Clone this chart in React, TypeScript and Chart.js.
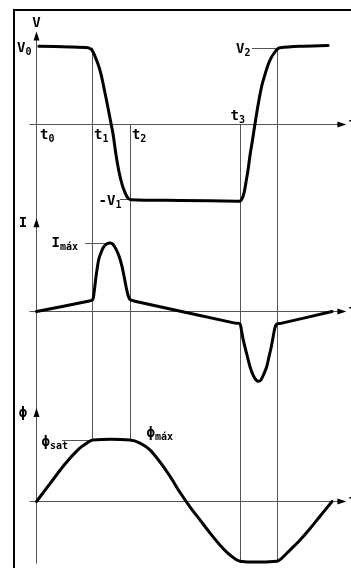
import React, { useEffect, useRef } from 'react';
import { Chart, registerables } from 'chart.js';

Chart.register(...registerables);

const W = 351;
const H = 568;

// ---- data (time in arbitrary units, levels normalised) ----
const markTimes = [0, 1.87, 3.13, 6.8, 8.03];
const markSubs = ['0', '1', '2', '3'];

const V0 = 1.0;
const V1 = -0.974;
const V2 = 0.98;
const IMAX = 1.0;
const PHI_MAX = 1.0;
const PHI_MIN = -0.97;

const vTime = [0.08, 1.12, 1.72, 1.78, 1.85, 1.95, 2.05, 2.15, 2.25, 2.35, 2.45, 2.55, 2.65, 2.75, 2.85, 2.95, 3.05, 3.15, 4.78, 6.72, 6.78, 6.85, 6.92, 6.98, 7.05, 7.12, 7.2, 7.28, 7.38, 7.51, 7.62, 7.72, 7.82, 7.92, 8.02, 8.12, 8.78, 9.72];
const vValues = [1.01, 1.0, 0.99, 0.98, 0.96, 0.88, 0.78, 0.65, 0.47, 0.28, 0.08, -0.12, -0.39, -0.61, -0.77, -0.88, -0.95, -0.97, -0.98, -0.99, -0.99, -0.96, -0.88, -0.75, -0.59, -0.39, -0.2, 0, 0.24, 0.5, 0.65, 0.77, 0.86, 0.92, 0.97, 0.99, 1.01, 1.02];

const iTime = [0, 1.72, 1.87, 1.92, 1.97, 2.02, 2.08, 2.17, 2.25, 2.35, 2.45, 2.55, 2.65, 2.75, 2.85, 2.93, 3.0, 3.07, 3.13, 3.28, 6.62, 6.78, 6.83, 6.88, 6.95, 7.03, 7.12, 7.22, 7.32, 7.4, 7.48, 7.58, 7.67, 7.75, 7.82, 7.88, 7.93, 7.98, 8.02, 8.18, 9.85];
const iValues = [0, 0.15, 0.17, 0.28, 0.46, 0.62, 0.77, 0.88, 0.95, 0.99, 1.0, 0.98, 0.91, 0.81, 0.66, 0.49, 0.33, 0.21, 0.17, 0.15, -0.17, -0.18, -0.27, -0.39, -0.52, -0.66, -0.81, -0.93, -1.0, -1.02, -1.0, -0.91, -0.81, -0.66, -0.53, -0.39, -0.27, -0.2, -0.18, -0.17, 0];

const phiTime = [0, 0.45, 0.95, 1.38, 1.68, 1.88, 3.12, 3.45, 3.78, 4.12, 4.45, 4.78, 5.12, 5.45, 5.78, 6.12, 6.45, 6.78, 8.02, 8.18, 8.45, 8.78, 9.12, 9.45, 9.85];
const phiValues = [0, 0.29, 0.61, 0.84, 0.95, 1.0, 1.0, 0.95, 0.84, 0.64, 0.41, 0.15, -0.09, -0.3, -0.51, -0.71, -0.87, -0.97, -0.97, -0.92, -0.79, -0.63, -0.44, -0.24, 0];

// ---- layout (pixel mapping of the units) ----
const X_ZERO = 36.5;
const X_UNIT = 30;
const V_ZERO = 124.5;
const V_UNIT = 77.5;
const I_ZERO = 311.5;
const I_UNIT = 68.5;
const P_ZERO = 501.5;
const P_UNIT = 61.5;

const yRange = (zero: number, unit: number) => ({ min: -(H - zero) / unit, max: zero / unit });

const AXIS_START = -0.22;
const AXIS_END = 10.33;

const LINE = '#555';
const MAIN_FONT = 'bold 14px "DejaVu Sans Mono"';
const SUB_FONT = 'bold 10px "DejaVu Sans Mono"';

function zip(xs: number[], ys: number[]) {
  return xs.map((x, i) => ({ x, y: ys[i] }));
}

function drawLabel(ctx: CanvasRenderingContext2D, x: number, y: number, main: string, sub: string, align: 'left' | 'center') {
  ctx.font = MAIN_FONT;
  const wm = ctx.measureText(main).width;
  ctx.font = SUB_FONT;
  const ws = sub ? ctx.measureText(sub).width : 0;
  const x0 = align === 'center' ? x - (wm + ws) / 2 : x;
  ctx.textBaseline = 'middle';
  ctx.textAlign = 'left';
  ctx.fillStyle = '#000';
  ctx.font = MAIN_FONT;
  ctx.fillText(main, x0, y);
  if (sub) {
    ctx.font = SUB_FONT;
    ctx.fillText(sub, x0 + wm, y + 4);
  }
}

const diagramPlugin = {
  id: 'diagram',
  beforeDatasetsDraw(chart: any) {
    const ctx: CanvasRenderingContext2D = chart.ctx;
    const sx = chart.scales.x;
    const S: any = { yV: chart.scales.yV, yI: chart.scales.yI, yP: chart.scales.yP };
    const px = (t: number) => Math.floor(sx.getPixelForValue(t)) + 0.5;
    const py = (id: string, v: number) => Math.floor(S[id].getPixelForValue(v)) + 0.5;
    ctx.save();
    ctx.strokeStyle = LINE;
    ctx.lineWidth = 1;
    const seg = (x1: number, y1: number, x2: number, y2: number) => {
      ctx.beginPath();
      ctx.moveTo(x1, y1);
      ctx.lineTo(x2, y2);
      ctx.stroke();
    };
    // horizontal axes with arrows
    const xEnd = sx.getPixelForValue(AXIS_END);
    for (const id of ['yV', 'yI', 'yP']) {
      const y = py(id, 0);
      seg(px(AXIS_START), y, xEnd - 6, y);
      ctx.fillStyle = '#000';
      ctx.beginPath();
      ctx.moveTo(xEnd, y);
      ctx.lineTo(xEnd - 9, y - 3);
      ctx.lineTo(xEnd - 9, y + 3);
      ctx.closePath();
      ctx.fill();
    }
    // vertical axis with arrows
    const ax = px(markTimes[0]);
    seg(ax, S.yV.getPixelForValue(1.18), ax, py('yP', -1.0));
    const tips: [string, number][] = [['yV', 1.2], ['yI', 1.36], ['yP', 1.52]];
    for (const [id, v] of tips) {
      const y = S[id].getPixelForValue(v);
      ctx.fillStyle = '#000';
      ctx.beginPath();
      ctx.moveTo(ax, y);
      ctx.lineTo(ax - 3, y + 9);
      ctx.lineTo(ax + 3, y + 9);
      ctx.closePath();
      ctx.fill();
    }
    // time markers
    const spans: [number, string, number, string, number][] = [
      [markTimes[1], 'yV', V0 * 0.99, 'yP', PHI_MAX],
      [markTimes[2], 'yV', 0, 'yP', PHI_MAX],
      [markTimes[3], 'yV', 0, 'yP', PHI_MIN],
      [markTimes[4], 'yV', V2, 'yP', PHI_MIN],
    ];
    for (const [t, a, av, b, bv] of spans) {
      seg(px(t), py(a, av), px(t), py(b, bv));
    }
    // level reference lines
    const refs: [number, number, string, number][] = [
      [2.78, markTimes[2], 'yV', V1],
      [7.18, markTimes[4], 'yV', V2],
      [1.62, 2.38, 'yI', IMAX],
      [0.85, markTimes[1], 'yP', PHI_MAX],
    ];
    for (const [t1, t2, id, v] of refs) {
      seg(sx.getPixelForValue(t1), py(id, v), sx.getPixelForValue(t2), py(id, v));
    }
    ctx.restore();
  },
  afterDatasetsDraw(chart: any) {
    const ctx: CanvasRenderingContext2D = chart.ctx;
    const sx = chart.scales.x;
    const S: any = { yV: chart.scales.yV, yI: chart.scales.yI, yP: chart.scales.yP };
    const X = (t: number) => sx.getPixelForValue(t);
    const Y = (id: string, v: number) => S[id].getPixelForValue(v);
    ctx.save();
    // axis names
    drawLabel(ctx, X(0), Y('yV', 1.3), 'V', '', 'center');
    drawLabel(ctx, X(-0.45), Y('yI', 1.29), 'I', '', 'center');
    drawLabel(ctx, X(-0.45), Y('yP', 1.44), 'ϕ', '', 'center');
    // time labels
    const tPos: [number, number][] = [[0.12, -0.135], [1.92, -0.135], [3.18, -0.135], [6.47, 0.1]];
    tPos.forEach(([t, v], i) => drawLabel(ctx, X(t), Y('yV', v), 't', markSubs[i], 'left'));
    // level labels
    drawLabel(ctx, X(-0.65), Y('yV', V0 * 0.98), 'V', '0', 'left');
    drawLabel(ctx, X(2.07), Y('yV', V1 - 0.02), '-V', '1', 'left');
    drawLabel(ctx, X(6.65), Y('yV', V2 - 0.01), 'V', '2', 'left');
    drawLabel(ctx, X(0.5), Y('yI', IMAX * 0.99), 'I', 'máx', 'left');
    drawLabel(ctx, X(0.17), Y('yP', PHI_MAX * 0.96), 'ϕ', 'sat', 'left');
    drawLabel(ctx, X(3.67), Y('yP', PHI_MAX * 1.11), 'ϕ', 'máx', 'left');
    // axis end names (clipped at the edge)
    for (const id of ['yV', 'yI', 'yP']) {
      drawLabel(ctx, X(10.4), Y(id, 0), 't', '', 'left');
    }
    ctx.restore();
  },
};

export default function App() {
  const ref = useRef<HTMLCanvasElement | null>(null);
  useEffect(() => {
    if (!ref.current) return;
    const line = (data: { x: number; y: number }[], yAxisID: string) => ({
      data,
      yAxisID,
      borderColor: '#000',
      borderWidth: 3,
      pointRadius: 0,
      fill: false,
      tension: 0.3,
      borderJoinStyle: 'round' as const,
      borderCapStyle: 'round' as const,
    });
    const chart = new Chart(ref.current, {
      type: 'line',
      data: {
        datasets: [
          line(zip(vTime, vValues), 'yV'),
          line(zip(iTime, iValues), 'yI'),
          line(zip(phiTime, phiValues), 'yP'),
        ],
      },
      options: {
        animation: false,
        responsive: false,
        devicePixelRatio: 1,
        events: [],
        layout: { padding: 0 },
        plugins: { legend: { display: false }, tooltip: { enabled: false } },
        scales: {
          x: { type: 'linear', display: false, min: -X_ZERO / X_UNIT, max: (W - X_ZERO) / X_UNIT },
          yV: { type: 'linear', display: false, ...yRange(V_ZERO, V_UNIT) },
          yI: { type: 'linear', display: false, ...yRange(I_ZERO, I_UNIT) },
          yP: { type: 'linear', display: false, ...yRange(P_ZERO, P_UNIT) },
        },
      },
      plugins: [diagramPlugin],
    });
    return () => chart.destroy();
  }, []);
  return (
    <div style={{ position: 'absolute', left: 0, top: 0, width: W, height: H, background: '#fff', overflow: 'hidden' }}>
      <div
        style={{
          position: 'absolute',
          left: 13,
          top: 9,
          width: W - 13,
          height: H - 9,
          borderTop: '2px solid #000',
          borderLeft: '2px solid #000',
          boxSizing: 'border-box',
        }}
      />
      <canvas ref={ref} width={W} height={H} style={{ position: 'absolute', left: 0, top: 0, width: W, height: H }} />
    </div>
  );
}
